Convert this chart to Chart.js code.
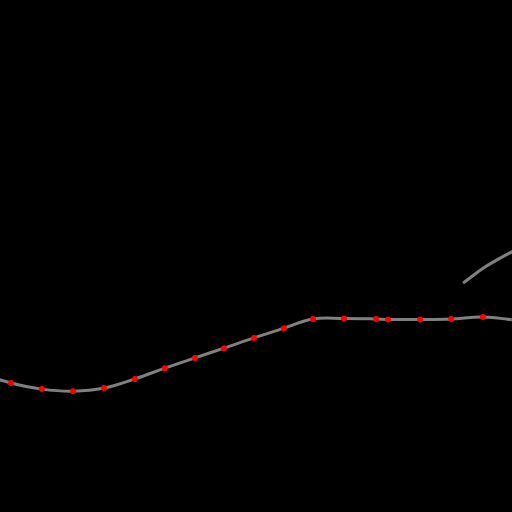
<!DOCTYPE html>
<html>
<head>
<meta charset="utf-8">
<script src="https://cdn.jsdelivr.net/npm/chart.js@4"></script>
<style>
html,body{margin:0;padding:0;background:#000;}
#wrap{width:512px;height:512px;}
</style>
</head>
<body>
<div id="wrap"><canvas id="c" width="512" height="512"></canvas></div>
<script>
const mainX = [-1, 0, 1.01, 2.03, 3.04, 4.05, 5.03, 6.01, 6.96, 7.94, 8.92, 9.87, 10.88, 11.93, 12.32, 13.37, 14.38, 15.42, 16.45];
const mainY = [27.0, 25.2, 24.0, 23.6, 24.2, 26.0, 28.1, 30.1, 32.0, 34.0, 35.9, 37.7, 37.8, 37.7, 37.6, 37.6, 37.7, 38.1, 37.5];
const upperX = [14.77, 15.5, 16.6];
const upperY = [44.7, 47.9, 51.6];

const toPts = (xs, ys) => xs.map((x, i) => ({x: x, y: ys[i]}));

new Chart(document.getElementById('c'), {
  type: 'line',
  data: {
    datasets: [
      {
        data: toPts(mainX, mainY),
        borderColor: 'rgb(128,128,128)',
        borderWidth: 3,
        tension: 0.4,
        pointRadius: 3,
        pointBackgroundColor: 'rgb(255,0,0)',
        pointBorderWidth: 0,
        pointBorderColor: 'rgb(255,0,0)',
        clip: false
      },
      {
        data: toPts(upperX, upperY),
        borderColor: 'rgb(128,128,128)',
        borderWidth: 3,
        tension: 0.4,
        pointRadius: 0,
        clip: false
      }
    ]
  },
  options: {
    responsive: false,
    animation: false,
    layout: {padding: 0, autoPadding: false},
    plugins: {legend: {display: false}, tooltip: {enabled: false}},
    scales: {
      x: {type: 'linear', display: false, min: -0.36, max: 16.37},
      y: {type: 'linear', display: false, min: 0, max: 100}
    }
  }
});
</script>
</body>
</html>
